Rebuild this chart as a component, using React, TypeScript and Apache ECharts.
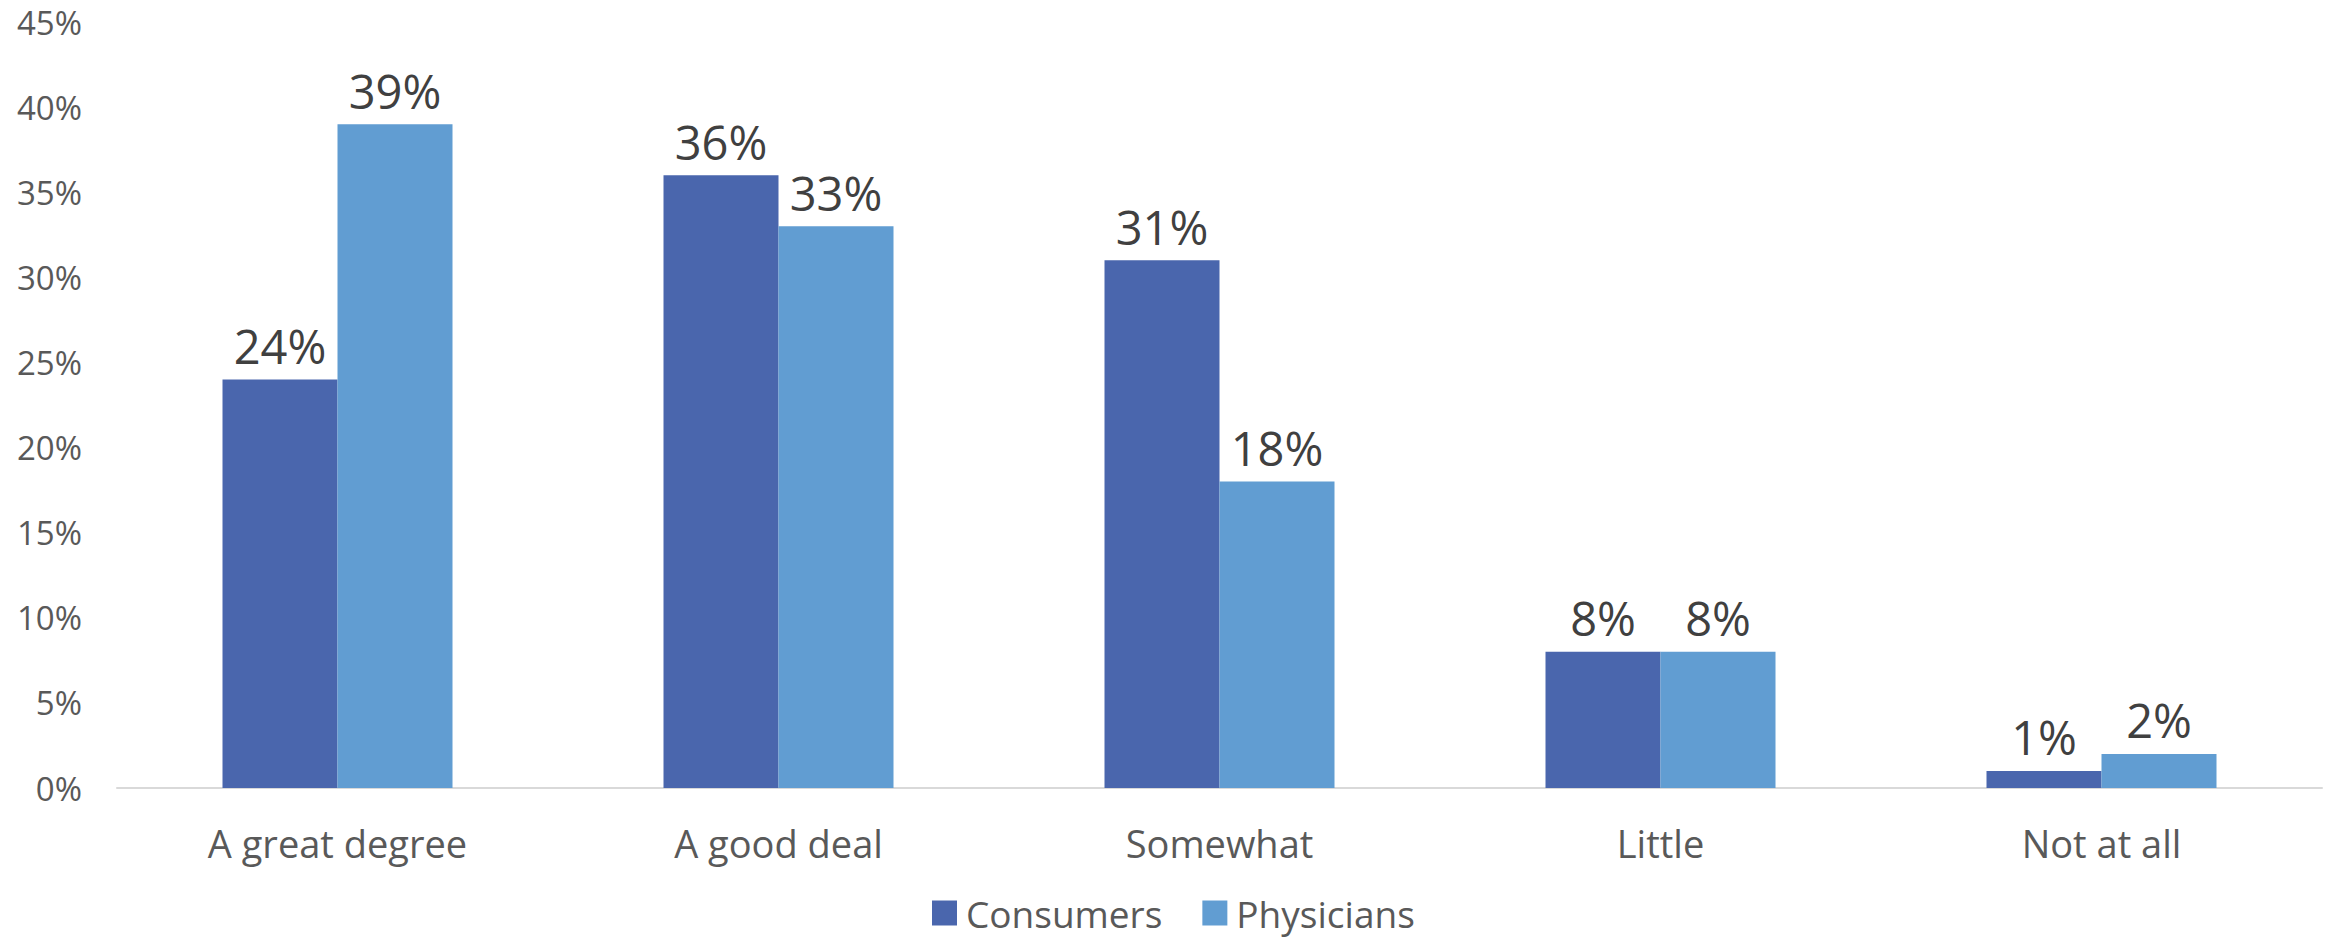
import React, { useEffect, useRef } from "react";
import * as echarts from "echarts";

const categories = ["A great degree", "A good deal", "Somewhat", "Little", "Not at all"];
const consumers = [24, 36, 31, 8, 1];
const physicians = [39, 33, 18, 8, 2];
const seriesNames = ["Consumers", "Physicians"];
const yTicks = { min: 0, max: 45, interval: 5 };

const FONT = "'Open Sans', 'DejaVu Sans', sans-serif";

export default function App() {
  const ref = useRef<HTMLDivElement>(null);
  useEffect(() => {
    document.body.style.margin = "0";
    const chart = echarts.init(ref.current!, null, { renderer: "svg" });
    const label = {
      show: true,
      position: "top",
      distance: 10,
      formatter: "{c}%",
      color: "#404040",
      fontSize: 47,
      fontFamily: FONT,
    };
    chart.setOption({
      animation: false,
      backgroundColor: "#ffffff",
      textStyle: { fontFamily: FONT },
      grid: { left: 117, right: 6, top: 22, bottom: 152, containLabel: false },
      legend: {
        data: seriesNames,
        left: 932,
        top: 893,
        padding: 0,
        itemWidth: 25,
        itemHeight: 25,
        itemGap: 40,
        icon: "rect",
        textStyle: { fontSize: 37, lineHeight: 40, color: "#595959", fontFamily: FONT, padding: [0, 0, 0, 4] },
      },
      xAxis: {
        type: "category",
        data: categories,
        axisLine: { show: true, lineStyle: { color: "#d9d9d9", width: 2 } },
        axisTick: { show: false },
        axisLabel: { color: "#595959", fontSize: 38, fontFamily: FONT, margin: 36 },
        splitLine: { show: false },
      },
      yAxis: {
        type: "value",
        min: yTicks.min,
        max: yTicks.max,
        interval: yTicks.interval,
        axisLine: { show: false },
        axisTick: { show: false },
        splitLine: { show: false },
        axisLabel: {
          formatter: "{value}%",
          color: "#595959",
          fontSize: 33,
          lineHeight: 34,
          fontFamily: FONT,
          margin: 35,
        },
      },
      series: [
        {
          name: seriesNames[0],
          type: "bar",
          data: consumers,
          barWidth: 115,
          barGap: "0%",
          itemStyle: { color: "#4a66ad" },
          label,
        },
        {
          name: seriesNames[1],
          type: "bar",
          data: physicians,
          barWidth: 115,
          barGap: "0%",
          itemStyle: { color: "#619dd2" },
          label,
        },
      ],
    });
    return () => chart.dispose();
  }, []);
  return <div ref={ref} style={{ width: 2328, height: 940 }} />;
}
